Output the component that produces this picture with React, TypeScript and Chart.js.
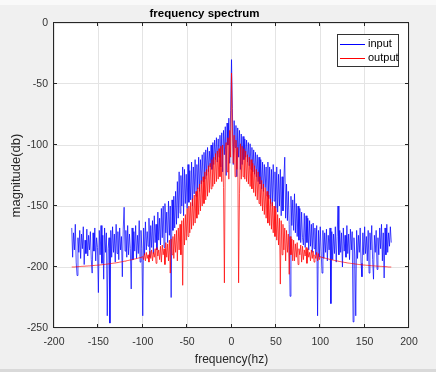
import React, { useEffect, useRef } from 'react';
import { Chart, registerables } from 'chart.js';

Chart.register(...registerables);

// ---------- data ----------
const FREQ_HZ = [
  -180, -179, -178, -177, -176, -175, -174, -173, -172, -171,
  -170, -169, -168, -167, -166, -165, -164, -163, -162, -161,
  -160, -159, -158, -157, -156, -155, -154, -153, -152, -151,
  -150, -149, -148, -147, -146, -145, -144, -143, -142, -141,
  -140, -139, -138, -137, -136, -135, -134, -133, -132, -131,
  -130, -129, -128, -127, -126, -125, -124, -123, -122, -121,
  -120, -119, -118, -117, -116, -115, -114, -113, -112, -111,
  -110, -109, -108, -107, -106, -105, -104, -103, -102, -101,
  -100, -99, -98, -97, -96, -95, -94, -93, -92, -91,
  -90, -89, -88, -87, -86, -85, -84, -83, -82, -81,
  -80, -79, -78, -77, -76, -75, -74, -73, -72, -71,
  -70, -69, -68, -67, -66, -65, -64, -63, -62, -61,
  -60, -59, -58, -57, -56, -55, -54, -53, -52, -51,
  -50, -49, -48, -47, -46, -45, -44, -43, -42, -41,
  -40, -39, -38, -37, -36, -35, -34, -33, -32, -31,
  -30, -29, -28, -27, -26, -25, -24, -23, -22, -21,
  -20, -19, -18, -17, -16, -15, -14, -13, -12, -11,
  -10, -9, -8, -7, -6, -5, -4, -3, -2, -1,
  0,
  1, 2, 3, 4, 5, 6, 7, 8, 9, 10,
  11, 12, 13, 14, 15, 16, 17, 18, 19, 20,
  21, 22, 23, 24, 25, 26, 27, 28, 29, 30,
  31, 32, 33, 34, 35, 36, 37, 38, 39, 40,
  41, 42, 43, 44, 45, 46, 47, 48, 49, 50,
  51, 52, 53, 54, 55, 56, 57, 58, 59, 60,
  61, 62, 63, 64, 65, 66, 67, 68, 69, 70,
  71, 72, 73, 74, 75, 76, 77, 78, 79, 80,
  81, 82, 83, 84, 85, 86, 87, 88, 89, 90,
  91, 92, 93, 94, 95, 96, 97, 98, 99, 100,
  101, 102, 103, 104, 105, 106, 107, 108, 109, 110,
  111, 112, 113, 114, 115, 116, 117, 118, 119, 120,
  121, 122, 123, 124, 125, 126, 127, 128, 129, 130,
  131, 132, 133, 134, 135, 136, 137, 138, 139, 140,
  141, 142, 143, 144, 145, 146, 147, 148, 149, 150,
  151, 152, 153, 154, 155, 156, 157, 158, 159, 160,
  161, 162, 163, 164, 165, 166, 167, 168, 169, 170,
  171, 172, 173, 174, 175, 176, 177, 178, 179, 180,
];

const INPUT_DB = [
  -168, -192, -172, -186, -165, -196, -207, -176, -188, -170,
  -193, -173, -185, -167, -198, -178, -189, -169, -191, -174,
  -186, -171, -194, -205, -172, -187, -168, -195, -176, -184,
  -221, -170, -190, -166, -197, -174, -210, -168, -188, -172,
  -240, -185, -176, -246, -170, -192, -167, -188, -173, -196,
  -165, -189, -171, -194, -168, -186, -175, -208, -169, -151,
  -187, -170, -192, -166, -190, -173, -185, -218, -168, -194,
  -171, -187, -166, -193, -174, -189, -162, -196, -170, -185,
  -240, -168, -190, -163, -186, -171, -183, -160, -192, -166,
  -184, -162, -189, -158, -180, -165, -186, -155, -178, -160,
  -182, -152, -176, -150, -184, -148, -172, -155, -180, -146,
  -174, -150, -225, -145, -170, -142, -168, -138, -165, -130,
  -160, -122, -156, -125, -150, -118, -158, -120, -148, -124,
  -152, -116, -147, -121, -145, -114, -150, -118, -140, -112,
  -142, -116, -136, -110, -138, -112, -132, -108, -130, -106,
  -128, -104, -125, -102, -122, -105, -118, -100, -120, -98,
  -116, -96, -112, -94, -114, -95, -110, -92, -118, -90,
  -122, -88, -108, -85, -125, -82, -100, -78, -115, -72,
  -30,
  -70, -116, -80, -102, -84, -126, -86, -110, -88, -120,
  -91, -116, -93, -112, -95, -110, -96, -114, -98, -117,
  -99, -120, -102, -122, -104, -124, -106, -126, -108, -130,
  -110, -132, -112, -136, -114, -138, -116, -135, -118, -142,
  -114, -144, -118, -148, -120, -150, -116, -146, -122, -152,
  -118, -155, -124, -150, -120, -158, -126, -154, -128, -110,
  -160, -132, -162, -138, -165, -224, -142, -166, -145, -170,
  -140, -172, -148, -175, -150, -178, -152, -180, -155, -176,
  -182, -156, -184, -158, -180, -160, -186, -162, -183, -165,
  -188, -164, -185, -168, -190, -166, -240, -170, -192, -167,
  -187, -205, -170, -193, -172, -188, -169, -195, -174, -186,
  -168, -230, -171, -194, -173, -189, -167, -196, -175, -150,
  -190, -170, -188, -172, -200, -168, -187, -174, -192, -166,
  -189, -173, -194, -169, -186, -171, -245, -176, -191, -240,
  -170, -193, -174, -188, -168, -197, -208, -172, -190, -167,
  -189, -175, -195, -170, -205, -172, -186, -166, -194, -210,
  -174, -188, -170, -202, -176, -190, -168, -185, -165, -195,
  -172, -209, -168, -190, -165, -188, -172, -183, -167, -180,
];

const OUTPUT_DB = [
  -200, -200, -200, -200, -199.9, -199.8, -199.8, -199.7, -199.7, -199.6,
  -199.6, -199.5, -199.5, -199.4, -199.4, -199.3, -199.3, -199.2, -199.2, -199.1,
  -199.1, -199, -199, -198.9, -198.8, -198.8, -198.7, -198.6, -198.6, -198.5,
  -198.4, -198.4, -198.3, -198.2, -198.1, -198, -198, -197.9, -197.8, -197.7,
  -197.6, -197.5, -197.4, -197.3, -197.2, -197.1, -197, -196.9, -196.8, -196.7,
  -196.6, -196.4, -196.3, -196.2, -196, -195.9, -195.8, -195.6, -195.5, -195.3,
  -195.2, -195, -194.9, -194.7, -194.6, -194.4, -194.3, -194.1, -194, -193.8,
  -193.6, -193.4, -193.3, -193.1, -192.9, -192.7, -192.5, -192.3, -192.1, -191.9,
  -191.5, -194, -189, -195, -188, -193, -190, -196, -187, -193,
  -186, -195, -188, -192, -185, -197, -184, -191, -186, -194,
  -183, -196, -182, -190, -185, -198, -180, -192, -181, -195,
  -178, -205, -177, -190, -175, -193, -173, -188, -170, -195,
  -168, -186, -165, -190, -162, -215, -160, -182, -157, -178,
  -152, -175, -150, -172, -147, -169, -144, -166, -141, -164,
  -138, -160, -135, -157, -132, -154, -129, -150, -126, -148,
  -122, -145, -120, -142, -117, -139, -115, -136, -112, -134,
  -110, -132, -107, -130, -105, -128, -103, -126, -101, -130,
  -100, -135, -213, -104, -98, -122, -94, -128, -88, -110,
  -41,
  -86, -115, -92, -126, -96, -120, -102, -213, -140, -99,
  -128, -101, -126, -103, -128, -105, -130, -108, -132, -110,
  -134, -112, -136, -115, -139, -117, -142, -120, -145, -122,
  -148, -126, -150, -129, -154, -132, -157, -135, -160, -138,
  -164, -141, -166, -144, -169, -147, -172, -150, -175, -152,
  -178, -157, -182, -160, -214, -162, -190, -165, -186, -168,
  -195, -170, -188, -173, -206, -175, -190, -177, -195, -178,
  -195, -181, -192, -180, -198, -185, -190, -182, -196, -183,
  -194, -186, -191, -184, -197, -185, -192, -188, -195, -186,
  -193, -187, -196, -190, -193, -188, -195, -189, -194, -191.5,
  -191.9, -192.1, -192.3, -192.5, -192.7, -192.9, -193.1, -193.3, -193.4, -193.6,
  -193.8, -194, -194.1, -194.3, -194.4, -194.6, -194.7, -194.9, -195, -195.2,
  -195.3, -195.5, -195.6, -195.8, -195.9, -196, -196.2, -196.3, -196.4, -196.6,
  -196.7, -196.8, -196.9, -197, -197.1, -197.2, -197.3, -197.4, -197.5, -197.6,
  -197.7, -197.8, -197.9, -198, -198, -198.1, -198.2, -198.3, -198.4, -198.4,
  -198.5, -198.6, -198.6, -198.7, -198.8, -198.8, -198.9, -199, -199, -199.1,
  -199.1, -199.2, -199.2, -199.3, -199.3, -199.4, -199.4, -199.5, -199.5, -199.6,
  -199.6, -199.7, -199.7, -199.8, -199.8, -199.9, -200, -200, -200, -200,
];

const X_TICKS = [-200, -150, -100, -50, 0, 50, 100, 150, 200];
const Y_TICKS = [-250, -200, -150, -100, -50, 0];

const SERIES_NAMES = ['input', 'output'];
const SERIES_COLORS = ['rgba(0,0,255,0.7)', 'rgba(255,0,0,0.7)'];
const LEGEND_COLORS = ['#0000ff', '#ff0000'];

const FONT = '"Liberation Sans", Arial, Helvetica, sans-serif';
const AXIS_COLOR = '#262626';

const framePlugin = {
  id: 'matlabFrame',
  beforeDraw(chart: any) {
    const { ctx, width, height, chartArea: a } = chart;
    ctx.save();
    ctx.fillStyle = '#f0f0f0';
    ctx.fillRect(0, 0, width, height);
    ctx.fillStyle = '#f9f9f9';
    ctx.fillRect(0, 0, width, 5);
    ctx.fillStyle = '#d9d9d9';
    ctx.fillRect(0, height - 3, width, 3);
    ctx.fillStyle = '#ffffff';
    ctx.fillRect(a.left, a.top, a.right - a.left, a.bottom - a.top);
    ctx.restore();
  },
  afterDraw(chart: any) {
    const { ctx, chartArea: a, scales } = chart;
    ctx.save();
    ctx.strokeStyle = AXIS_COLOR;
    ctx.lineWidth = 1;
    const L = Math.round(a.left) - 0.5;
    const R = Math.round(a.right) - 0.5;
    const T = Math.round(a.top) - 0.5;
    const B = Math.round(a.bottom) - 0.5;
    ctx.strokeRect(L, T, R - L, B - T);
    const tl = 3.5;
    ctx.beginPath();
    X_TICKS.forEach((v) => {
      const px = Math.round(scales.x.getPixelForValue(v)) - 0.5;
      ctx.moveTo(px, B);
      ctx.lineTo(px, B - tl);
      ctx.moveTo(px, T);
      ctx.lineTo(px, T + tl);
    });
    Y_TICKS.forEach((v) => {
      const py = Math.round(scales.y.getPixelForValue(v)) - 0.5;
      ctx.moveTo(L, py);
      ctx.lineTo(L + tl, py);
      ctx.moveTo(R, py);
      ctx.lineTo(R - tl, py);
    });
    ctx.stroke();

    // legend box (MATLAB style, top-right inside the axes)
    const bx = Math.round(a.right) - 71.5;
    const by = Math.round(a.top) + 11.5;
    const bw = 61;
    const bh = 32;
    ctx.fillStyle = '#ffffff';
    ctx.fillRect(bx, by, bw, bh);
    ctx.strokeStyle = '#333333';
    ctx.strokeRect(bx, by, bw, bh);
    ctx.font = `11px ${FONT}`;
    ctx.textBaseline = 'middle';
    ctx.textAlign = 'left';
    SERIES_NAMES.forEach((name, i) => {
      const y = by + 9 + i * 14.4;
      ctx.strokeStyle = LEGEND_COLORS[i];
      ctx.beginPath();
      ctx.moveTo(bx + 2.5, Math.round(y) + 0.5);
      ctx.lineTo(bx + 27.5, Math.round(y) + 0.5);
      ctx.stroke();
      ctx.fillStyle = '#000000';
      ctx.fillText(name, bx + 30.5, y);
    });
    ctx.restore();
  },
};

export default function App() {
  const canvasRef = useRef<HTMLCanvasElement | null>(null);

  useEffect(() => {
    const canvas = canvasRef.current;
    if (!canvas) return;
    const toPoints = (vals: number[]) => FREQ_HZ.map((f, i) => ({ x: f, y: vals[i] }));
    const chart = new Chart(canvas, {
      type: 'line',
      data: {
        datasets: [
          {
            label: SERIES_NAMES[0],
            data: toPoints(INPUT_DB),
            borderColor: SERIES_COLORS[0],
            borderWidth: 1,
            pointRadius: 0,
            tension: 0,
            fill: false,
            order: 2,
          },
          {
            label: SERIES_NAMES[1],
            data: toPoints(OUTPUT_DB),
            borderColor: SERIES_COLORS[1],
            borderWidth: 1,
            pointRadius: 0,
            tension: 0,
            fill: false,
            order: 1,
          },
        ],
      },
      options: {
        animation: false,
        responsive: false,
        devicePixelRatio: 1,
        layout: { padding: { left: 0, right: 27, top: 0, bottom: 0 } },
        plugins: {
          legend: { display: false },
          tooltip: { enabled: false },
          title: {
            display: true,
            text: 'frequency spectrum',
            color: '#000000',
            font: { family: FONT, size: 11.5, weight: 'bold' },
            padding: { top: 6.5, bottom: 2.7 },
          },
        },
        scales: {
          x: {
            type: 'linear',
            min: X_TICKS[0],
            max: X_TICKS[X_TICKS.length - 1],
            afterBuildTicks: (s: any) => {
              s.ticks = X_TICKS.map((v) => ({ value: v }));
            },
            afterFit: (s: any) => {
              s.height = 44;
            },
            grid: { color: '#e4e4e4', drawTicks: false },
            border: { display: false },
            ticks: {
              padding: 8,
              color: '#333333',
              font: { family: FONT, size: 10.5 },
              maxRotation: 0,
              autoSkip: false,
            },
            title: {
              display: true,
              text: 'frequency(hz)',
              color: AXIS_COLOR,
              font: { family: FONT, size: 12 },
              padding: { top: 0, bottom: 5.5 },
            },
          },
          y: {
            type: 'linear',
            min: Y_TICKS[0],
            max: Y_TICKS[Y_TICKS.length - 1],
            afterBuildTicks: (s: any) => {
              s.ticks = Y_TICKS.map((v) => ({ value: v }));
            },
            afterFit: (s: any) => {
              s.width = 54;
            },
            grid: { color: '#e4e4e4', drawTicks: false },
            border: { display: false },
            ticks: {
              padding: 6,
              color: '#333333',
              font: { family: FONT, size: 10.5 },
            },
            title: {
              display: true,
              text: 'magnitude(db)',
              color: AXIS_COLOR,
              font: { family: FONT, size: 13 },
              padding: { top: 9, bottom: 0 },
            },
          },
        },
      },
      plugins: [framePlugin],
    } as any);
    return () => chart.destroy();
  }, []);

  return (
    <div style={{ position: 'fixed', left: 0, top: 0, width: 436, height: 372 }}>
      <canvas ref={canvasRef} width={436} height={372} style={{ display: 'block', width: 436, height: 372 }} />
    </div>
  );
}
